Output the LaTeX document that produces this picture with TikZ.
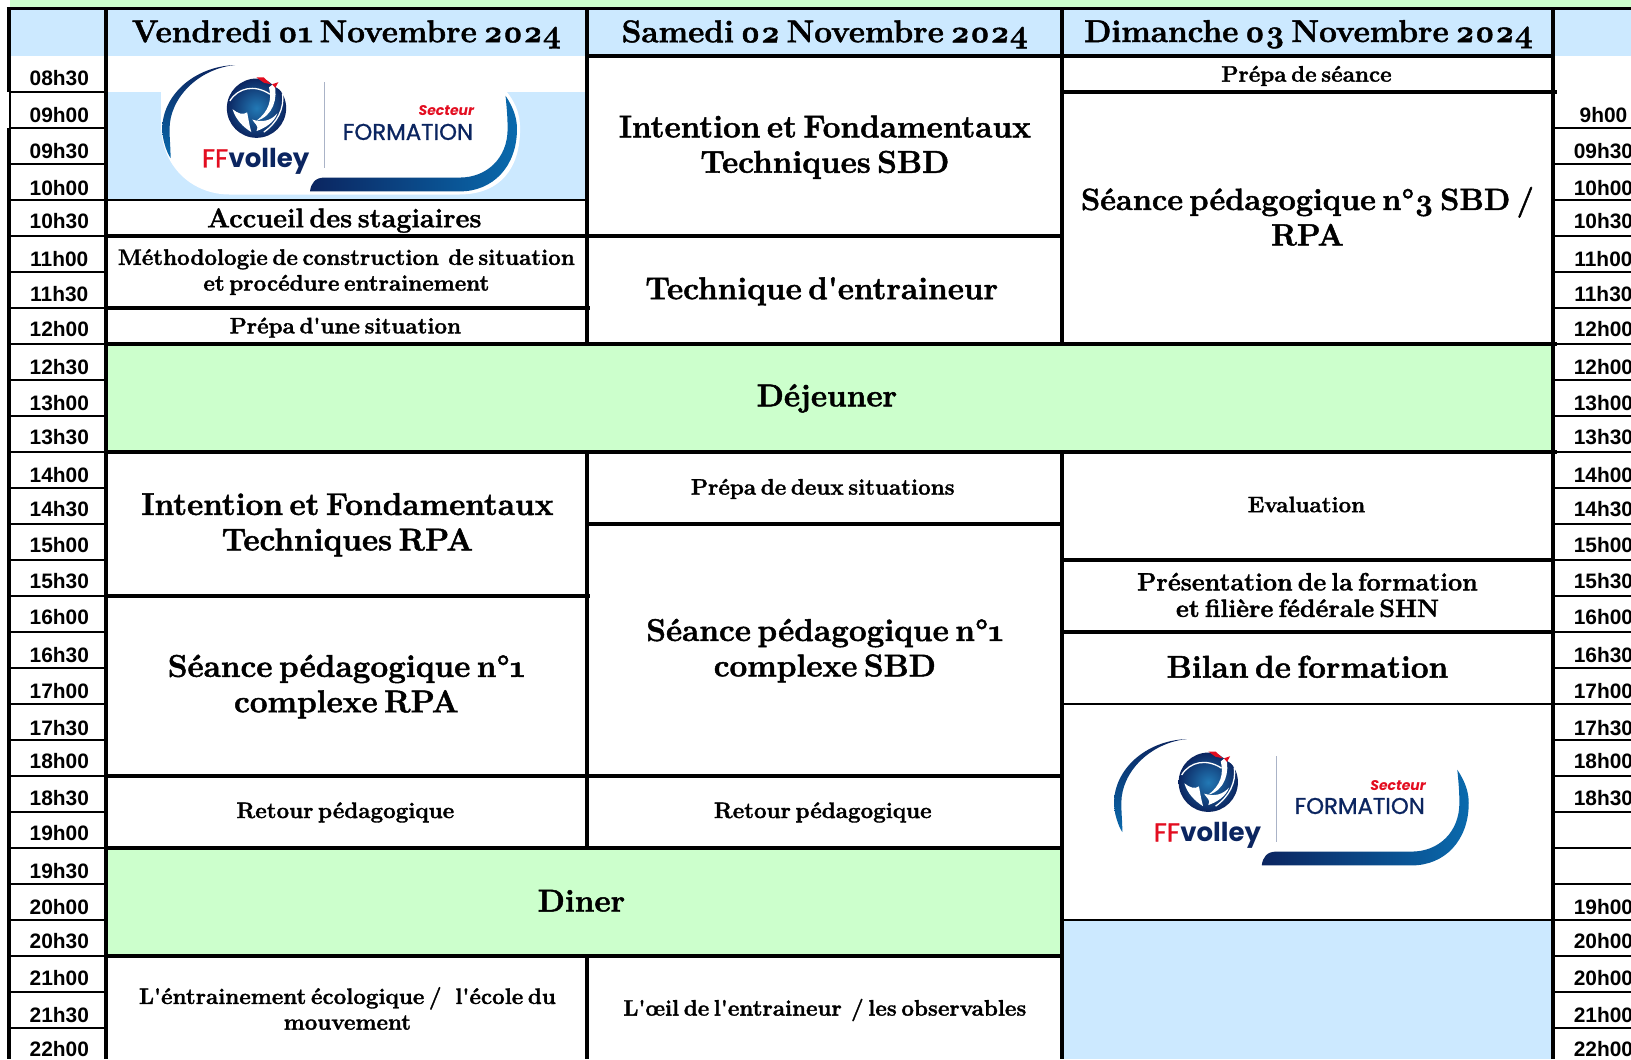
\documentclass[tikz,border=0pt]{standalone}
\usepackage{fontspec}
\setmainfont{Liberation Sans}
\newfontfamily\bk[Numbers=OldStyle,WordSpace=0.55,BoldFeatures={FakeBold=1.5}]{Latin Modern Roman}
\newfontfamily\logofont{Poppins}
\newfontfamily\logomed[FakeBold=1]{Poppins}
\usetikzlibrary{calc}
\definecolor{hb}{HTML}{CCE9FF}
\definecolor{gr}{HTML}{CCFFCC}
\definecolor{navy}{HTML}{0B2560}
\definecolor{fblue}{HTML}{0A6AAD}
\definecolor{fred}{HTML}{E30D20}
\tikzset{
  thick line/.style={line width=3.6pt,black},
  thin line/.style={line width=2.2pt,black},
  time/.style={anchor=base,inner sep=0,font=\fontsize{20.9}{24}\selectfont\bfseries},
  big/.style={inner sep=0,align=center,font=\bk\fontsize{31.5}{35.4}\selectfont\bfseries},
  bigb/.style={inner sep=0,align=center,font=\bk\fontsize{30.7}{35.4}\selectfont\bfseries},
  acc/.style={inner sep=0,align=center,font=\bk\fontsize{27}{30}\selectfont\bfseries},
  mid/.style={inner sep=0,align=center,font=\bk\fontsize{25}{26.5}\selectfont\bfseries},
  small/.style={inner sep=0,align=center,font=\bk\fontsize{22.4}{25.7}\selectfont\bfseries},
}
\newcommand{\ffblob}[2]{%
\begin{scope}[shift={(#1,#2)}]
 \fill[white] (-1,26) -- (-1,62) .. controls (1,100) and (30,125) .. (65,125) -- (285,125) .. controls (325,125) and (344,100) .. (344,62) .. controls (344,45) and (338,35) .. (331,26) -- cycle;
\end{scope}}
\newcommand{\fflogo}[3]{%
\begin{scope}[shift={(#1,#2)}]
 % left arc
 \shade[top color=navy,bottom color=fblue] (70,0.5) .. controls (30,2) and (0,30) .. (0,62) .. controls (0,72) and (4,84) .. (8,90) .. controls (8,80) and (7,72) .. (7,62) .. controls (7,32) and (35,4) .. (70,0.5) -- cycle;
 % right swoosh
 \shade[left color=navy,right color=fblue] (330,30) .. controls (338,42) and (341,52) .. (341,62) .. controls (341,98) and (318,122) .. (286,122) -- (142,122) .. controls (143,114) and (147,108.7) .. (156,108.7) -- (286,108.7) .. controls (312,108.7) and (332,90) .. (332,62) .. controls (332,50) and (331,40) .. (330,30) -- cycle;
 % divider
 \draw[line width=1.1pt,color=navy!35] (156,17) -- (156,99.6);
 % rooster ball
 \begin{scope}[shift={(90.6,42)}]
  \shade[inner color=fblue!90!white,outer color=navy] (0,0) circle (28.5);
  \draw[white,line width=1.3pt] (-25.6,-7) .. controls (-17.6,-19.9) and (-1.6,-23) .. (12.8,-13.5);
  \fill[white] (17,-24) .. controls (21,-10) and (16,8) .. (0,12) .. controls (12,3) and (15,-8) .. (12,-20) -- cycle;
  \fill[white] (-23,1) .. controls (-20,11) and (-13,18) .. (-5,23) .. controls (-7,16) and (-8,9) .. (-9,4) .. controls (-13,7) and (-18,5) .. (-23,1) -- cycle;
  \fill[white] (-4,11) .. controls (-2,15) and (3,17) .. (0,22) .. controls (8,19) and (17,14) .. (20,5) .. controls (14,12) and (6,14) .. (-4,11) -- cycle;
  \draw[white,line width=1.3pt] (25,-14) .. controls (27,0) and (20,14) .. (7,23);
  \fill[white] (6,-30) -- (22,-30) -- (27,-15) -- (19,-20) -- cycle;
  \fill[fred] (0,-29.5) -- (7,-29.5) -- (14,-23) -- (7,-24.5) -- cycle;
  \fill[fred] (15,-23) -- (21,-25) -- (18,-19.5) -- cycle;
 \end{scope}
 \node[anchor=base west,inner sep=0,font=\logomed\fontsize{26}{30}\selectfont,text=fred] (#3ff) at (38,99) {FF};
 \node[anchor=base west,inner sep=0,font=\logofont\fontsize{26}{30}\selectfont\bfseries,text=navy] (#3v) at (#3ff.base east) {volley};
 \node[anchor=base east,inner sep=0,font=\logofont\fontsize{14}{15}\selectfont\bfseries\itshape,text=fred] (#3s) at (300,49.5) {Secteur};
 \node[anchor=base east,inner sep=0,font=\logomed\fontsize{22.8}{24}\selectfont,text=navy] (#3f) at (299,72.5) {FORMATION};
\end{scope}}
\begin{document}
\begin{tikzpicture}[x=1.0402pt,y=-1.0402pt]
\useasboundingbox (0,0) rectangle (1568,1018.1);
\fill[white] (0,0) rectangle (1568,1018.1);
% fills
\fill[gr] (10,0) rectangle (1568,8);
\fill[hb] (10,8) rectangle (1568,54);
\fill[hb] (102,88.4) rectangle (564.5,192.2);
\fill[gr] (102,330.6) rectangle (1493,434.4);
\fill[gr] (102,815) rectangle (1021,918.8);
\fill[hb] (1021,884.2) rectangle (1493,1018.1);
% logos
\ffblob{156}{62}
\fflogo{156}{62}{la}
\fflogo{1071}{710}{lb}
% horizontal thin lines: time columns
\foreach \k in {1,...,27}{
  \pgfmathsetmacro\yy{53.8+34.6*\k}
  \draw[thin line] (9,\yy) -- (104,\yy);
}
\foreach \k in {2,...,27}{
  \pgfmathsetmacro\yy{53.8+34.6*\k}
  \draw[thin line] (1493,\yy) -- (1568,\yy);
}
% vertical lines
\draw[thick line] (8.5,7) -- (8.5,88.4);
\draw[line width=2.2pt] (9.6,88.4) -- (9.6,123);
\draw[thick line] (8.5,123) -- (8.5,1018.1);
\draw[thick line] (102,7) -- (102,1018.1);
\draw[thick line] (564.5,7) -- (564.5,330.6);
\draw[thick line] (564.5,434.4) -- (564.5,815);
\draw[thick line] (564.5,918.8) -- (564.5,1018.1);
\draw[thick line] (1021,7) -- (1021,330.6);
\draw[thick line] (1021,434.4) -- (1021,1018.1);
\draw[thick line] (1493,7) -- (1493,1018.1);
% top
\draw[thick line] (6.7,8) -- (1568,8);
% col 1
\draw[thin line] (102,192.2) -- (564.5,192.2);
\draw[thick line] (102,226.8) -- (566,226.8);
\draw[thick line] (102,296) -- (567,296);
\draw[thick line] (102,330.6) -- (1497,330.6);
\draw[thick line] (102,434.4) -- (1497,434.4);
\draw[thick line] (102,572.8) -- (567,572.8);
\draw[thick line] (102,745.8) -- (1023,745.8);
\draw[thick line] (102,815) -- (1023,815);
\draw[thick line] (102,918.8) -- (1023,918.8);
% col 2
\draw[thick line] (564.5,53.8) -- (1023,53.8);
\draw[thick line] (564.5,226.8) -- (1023,226.8);
\draw[thick line] (564.5,503.6) -- (1023,503.6);
% col 3
\draw[thick line] (1021,53.8) -- (1493,53.8);
\draw[thick line] (1021,88.4) -- (1497,88.4);
\draw[thick line] (1021,538.2) -- (1493,538.2);
\draw[thick line] (1021,607.4) -- (1493,607.4);
\draw[line width=1.6pt] (1021,676.6) -- (1493,676.6);
\draw[thin line] (1021,884.2) -- (1493,884.2);
% time labels
\foreach \i/\c/\t in {0/74/08h30,1/110/09h00,2/145/09h30,3/180/10h00,4/212/10h30,5/248/11h00,6/282/11h30,7/316/12h00,8/352/12h30,9/387/13h00,10/420/13h30,11/456/14h00,12/489/14h30,13/523/15h00,14/558/15h30,15/593/16h00,16/629/16h30,17/664/17h00,18/699/17h30,19/731/18h00,20/767/18h30,21/800/19h00,22/837/19h30,23/871/20h00,24/904/20h30,25/940/21h00,26/975/21h30,27/1008/22h00}
  \node[time] (L\i) at (57,\c+7.8) {\t};
\foreach \i/\c/\t in {1/110/9h00,2/145/09h30,3/180/10h00,4/212/10h30,5/248/11h00,6/282/11h30,7/316/12h00,8/352/12h00,9/387/13h00,10/420/13h30,11/456/14h00,12/489/14h30,13/523/15h00,14/558/15h30,15/593/16h00,16/629/16h30,17/664/17h00,18/699/17h30,19/731/18h00,20/767/18h30,23/871/19h00,24/904/20h00,25/940/20h00,26/975/21h00,27/1008/22h00}
  \node[time] (R\i) at (1541.5,\c+7.8) {\t};
% titles
\node[big] (h1) at (333,33) {Vendredi 01 Novembre 2024};
\node[big] (h2) at (793,33) {Samedi 02 Novembre 2024};
\node[big] (h3) at (1258,33) {Dimanche 03 Novembre 2024};
% cells
\node[acc] (a1) at (331,212) {Accueil des stagiaires};
\node[small] (a2) at (333,261.5) {Méthodologie de construction\ \ de situation\\et procédure entrainement};
\node[small] (a3) at (332,315) {Prépa d'une situation};
\node[big] (a4) at (334,504.5) {Intention et Fondamentaux\\Techniques RPA};
\node[big] (a5) at (333,660) {Séance pédagogique n°1\\complexe RPA};
\node[small] (a6) at (332,781) {Retour pédagogique};
\node[small] (a7) at (334,969.5) {L'éntrainement écologique /\ \ \ l'école du\\mouvement};
\node[big] (b1) at (793,141.5) {Intention et Fondamentaux\\Techniques SBD};
\node[big] (b2) at (790,280) {Technique d'entraineur};
\node[small] (b3) at (791,470) {Prépa de deux situations};
\node[big] (b4) at (793,625.5) {Séance pédagogique n°1\\complexe SBD};
\node[small] (b5) at (791,781) {Retour pédagogique};
\node[small] (b6) at (793,971) {L'œil de l'entraineur\ \ / les observables};
\node[small] (c1) at (1256,73) {Prépa de séance};
\node[bigb] (c2) at (1257,208) {Séance pédagogique n°3 SBD /\\RPA};
\node[small] (c3) at (1256,485) {Evaluation};
\node[mid] (c4) at (1257,572) {Présentation de la formation\\et filière fédérale SHN};
\node[big] (c5) at (1257,641) {Bilan de formation};
\node[big] (d1) at (795,383) {Déjeuner};
\node[big] (d2) at (559,866) {Diner};
\end{tikzpicture}
\end{document}
